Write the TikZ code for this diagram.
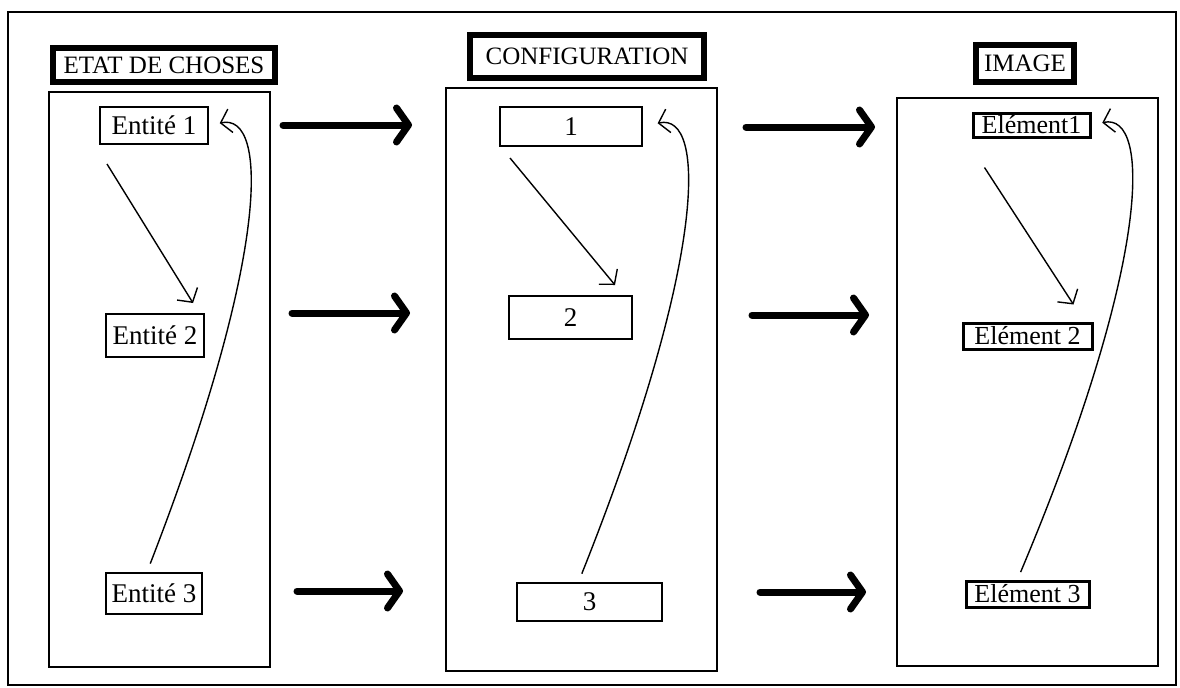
\documentclass[tikz,border=0pt]{standalone}
\usepackage{fontspec}
\setmainfont{Liberation Serif}
\usetikzlibrary{arrows.meta}
\tikzset{
  titre/.style = {draw=black, line width=3pt, fill=white, inner sep=0pt,
    font=\fontsize{12.5}{14}\selectfont, text centered},% titre de colonne
  elt/.style = {draw=black, line width=1pt, inner sep=0pt,
    font=\fontsize{13.5}{15}\selectfont, text centered},% element d'un cadre
  elt_e/.style = {elt, line width=1.5pt, font=\fontsize{13}{15}\selectfont},% element de l'image
  cadre/.style = {draw=black, line width=1.2pt},% grand cadre
  fleche/.style = {line width=3.5pt, line cap=round,
    -{Straight Barb[round, length=6pt, width=17pt]}},% fleche entre cadres
  lien/.style = {line width=0.7pt, -{Straight Barb[length=5pt, width=12pt]}}% lien interne
}
\begin{document}
\begin{tikzpicture}[x=0.5pt, y=-0.5pt]
\useasboundingbox (0,0) rectangle (1180,687);
\draw[line width=1pt] (8,12) rectangle (1176,685);

% etat de choses
\draw[cadre] (49,92) rectangle (270,667);
\node[titre, minimum width=111pt, minimum height=17pt] (t1) at (164,65) {ETAT DE CHOSES};
\node[elt, minimum width=54pt, minimum height=18.5pt] (e1) at (154,125.5) {Entité 1};
\node[elt, minimum width=49pt, minimum height=21.5pt] (e2) at (155,335.5) {Entité 2};
\node[elt, minimum width=48pt, minimum height=20.5pt] (e3) at (154,593.5) {Entité 3};

% configuration
\draw[cadre] (446,88) rectangle (717,671);
\node[titre, minimum width=117pt, minimum height=21.5pt] (t2) at (587,56.5) {CONFIGURATION};
\node[elt, minimum width=71pt, minimum height=19.5pt] (c1) at (571,126.5) {1};
\node[elt, minimum width=61.5pt, minimum height=21.5pt] (c2) at (570.5,317.5) {2};
\node[elt, minimum width=72.5pt, minimum height=19pt] (c3) at (589.5,602) {3};

% image
\draw[cadre] (897,98) rectangle (1158,666);
\node[titre, minimum width=49pt, minimum height=18.5pt] (t3) at (1025,63.5) {IMAGE};
\node[elt_e, minimum width=58.5pt, minimum height=12pt] (i1) at (1031.5,125) {Elément1};
\node[elt_e, minimum width=64.5pt, minimum height=13pt] (i2) at (1027.5,336) {Elément 2};
\node[elt_e, minimum width=61.5pt, minimum height=13pt] (i3) at (1027.5,594) {Elément 3};

% liens internes
\draw[lien] ([xshift=4pt,yshift=-9.5pt]e1.south west) -- ([xshift=-6pt,yshift=5pt]e2.north east);
\draw[lien] ([xshift=5.5pt,yshift=-5.5pt]c1.south west) -- ([xshift=-9pt,yshift=5pt]c2.north east);
\draw[lien] ([xshift=6.5pt,yshift=-14.5pt]i1.south west) -- ([xshift=-10pt,yshift=8.5pt]i2.north east);
\draw[lien, shorten <=4.5pt, shorten >=5.5pt] ([xshift=-3.5pt]e3.north)
  .. controls (268,260) and (270,112) .. (e1.east);
\draw[lien, shorten <=4.5pt, shorten >=7.5pt] ([xshift=-5.5pt]c3.north)
  .. controls (705,265) and (708,112) .. (c1.east);
\draw[lien, shorten <=4pt, shorten >=5.5pt] ([xshift=-5pt]i3.north)
  .. controls (1150,265) and (1152,112) .. (i1.east);

% fleches entre cadres
\foreach \n/\xa/\xb/\y in {1/283/412/125, 2/292/410/313, 3/297/403/591,
                           4/746/875/127, 5/752/869/315, 6/760/866/592}{
  \coordinate (d\n) at (\xa,\y);
  \coordinate (f\n) at (\xb,\y);
  \draw[fleche] (d\n) -- (f\n);
}
\end{tikzpicture}
\end{document}
